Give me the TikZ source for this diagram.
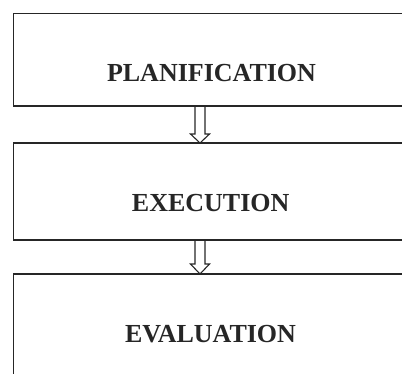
\documentclass[tikz,border=0pt]{standalone}
\usepackage{fontspec}
\setmainfont{Liberation Serif}
\usetikzlibrary{calc}
\begin{document}
\begin{tikzpicture}[x=1pt,y=-1pt,
  box/.style={draw=black!85, line width=1.6pt, minimum width=396pt, inner sep=0pt, outer sep=0pt},
  lbl/.style={font=\fontsize{26}{30}\selectfont\bfseries, anchor=base, inner sep=0pt, text=black!85},
  hollow/.style={draw=black!85, line width=1.1pt, line join=miter}]
\useasboundingbox (0,0) rectangle (402,373);
\clip (0,0) rectangle (402,373);
\node[box, minimum height=92.5pt] (p) at (211.5,59.75) {};
\node[box, minimum height=97pt] (e) at (211.5,191.5) {};
\node[box, minimum height=146pt] (v) at (211.5,347) {};
\node[lbl] (tp) at (211.5,81) {PLANIFICATION};
\node[lbl] (te) at (210.7,211.7) {EXECUTION};
\node[lbl] (tv) at (210.5,342) {EVALUATION};
\coordinate (ax) at (200,0);
\draw[hollow] ($(p.south -| ax)+(-5,0)$) -- ($(e.north -| ax)+(-5,-9)$) -- ++(-4.5,0)
  -- (e.north -| ax) -- ($(e.north -| ax)+(9.5,-9)$) -- ++(-4.5,0) -- ($(p.south -| ax)+(5,0)$);
\draw[hollow] ($(e.south -| ax)+(-5,0)$) -- ($(v.north -| ax)+(-5,-10)$) -- ++(-4.5,0)
  -- (v.north -| ax) -- ($(v.north -| ax)+(9.5,-10)$) -- ++(-4.5,0) -- ($(e.south -| ax)+(5,0)$);
\end{tikzpicture}
\end{document}
